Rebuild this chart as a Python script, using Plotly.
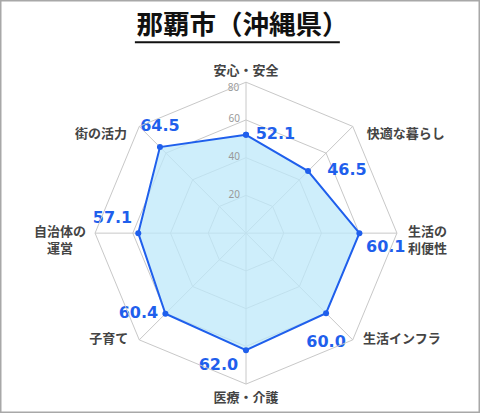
import plotly.graph_objects as go

# categories (clockwise from top) and scores
categories = ["安心・安全", "快適な暮らし", "生活の利便性", "生活インフラ",
              "医療・介護", "子育て", "自治体の運営", "街の活力"]
scores = [52.1, 46.5, 60.1, 60.0, 62.0, 60.4, 57.1, 64.5]
radial_ticks = [0, 20, 40, 60, 80]

# category labels as shown around the chart (line breaks as in the original)
axis_labels = ["安心・安全", "<br>快適な暮らし", "<br>生活の<br>利便性", "生活インフラ",
               "医療・介護", "子育て", "<br>自治体の<br>運営　", "<br>街の活力"]
axis_label_pos = ["top center", "middle right", "middle right", "middle right",
                  "bottom center", "middle left", "middle left", "middle left"]
axis_label_gap = [4.5, 21, 16, 15, 12, 16, 13, 18]

# where each value label sits around its point, and how far (invisible marker size)
label_pos = ["middle right", "middle right", "bottom right", "bottom center",
             "bottom left", "middle left", "top left", "top center"]
label_gap = [14, 29, 9, 34, 11, 10, 8, 17]

# radial tick label placement (the top one drops a little below the ring)
tick_pos = ["middle left"] * 4 + ["bottom left"]
tick_gap = [8, 8, 8, 8, 1]

BLUE = "#1f5fec"

fig = go.Figure()

# filled polygon
fig.add_trace(go.Scatterpolar(
    r=scores + scores[:1], theta=categories + categories[:1],
    mode="lines+markers", fill="toself",
    fillcolor="rgba(190,232,250,0.75)",
    line=dict(color=BLUE, width=2),
    marker=dict(color=BLUE, size=6),
    hoverinfo="skip", showlegend=False,
))

# value labels
fig.add_trace(go.Scatterpolar(
    r=scores, theta=categories, mode="markers+text",
    marker=dict(size=label_gap, opacity=0),
    text=[f"{v:.1f}" for v in scores], textposition=label_pos,
    textfont=dict(family="DejaVu Sans", size=16, color=BLUE, weight="bold"),
    hoverinfo="skip", showlegend=False, cliponaxis=False,
))

# category labels at the outer ring
fig.add_trace(go.Scatterpolar(
    r=[radial_ticks[-1]] * len(categories), theta=categories, mode="markers+text",
    marker=dict(size=axis_label_gap, opacity=0),
    text=axis_labels, textposition=axis_label_pos,
    textfont=dict(family="Noto Sans CJK JP", size=13, color="#444", weight="bold"),
    hoverinfo="skip", showlegend=False, cliponaxis=False,
))

# radial tick labels, left of the top spoke
# (the centre one stays clipped to the plot, otherwise plotly hides it)
for centre in (True, False):
    idx = [i for i, t in enumerate(radial_ticks) if (t == radial_ticks[0]) == centre]
    fig.add_trace(go.Scatterpolar(
        r=[radial_ticks[i] for i in idx], theta=[categories[0]] * len(idx),
        mode="markers+text",
        marker=dict(size=[tick_gap[i] for i in idx], opacity=0),
        text=[str(radial_ticks[i]) + ("\u00a0\u00a0" if tick_pos[i].startswith("bottom") else "")
              for i in idx],
        textposition=[tick_pos[i] for i in idx],
        textfont=dict(family="Noto Sans", size=10, color="#999"),
        hoverinfo="skip", showlegend=False, cliponaxis=centre,
    ))

fig.update_layout(
    width=480, height=413,
    margin=dict(l=0, r=0, t=0, b=0),
    paper_bgcolor="white",
    font=dict(family="Noto Sans CJK JP"),
    title=dict(text="<b>那覇市（沖縄県）</b>", x=0.505, xanchor="center",
               y=0.94, yanchor="middle",
               font=dict(size=26.5, color="#111")),
    polar=dict(
        domain=dict(x=[0.198, 0.827], y=[0.070, 0.801]),
        bgcolor="white",
        gridshape="linear",
        angularaxis=dict(rotation=90, direction="clockwise",
                         gridcolor="#c8c8c8", linecolor="#c8c8c8",
                         showline=True, ticks="", showticklabels=False),
        radialaxis=dict(range=[0, 80], tickvals=radial_ticks, angle=90,
                        showticklabels=False, gridcolor="#c8c8c8",
                        showline=False, ticks=""),
    ),
    shapes=[
        dict(type="rect", xref="paper", yref="paper", x0=0, y0=0, x1=1, y1=1,
             line=dict(color="#a8a8a8", width=3)),
        dict(type="line", xref="paper", yref="paper", x0=0.281, x1=0.708,
             y0=0.898, y1=0.898, line=dict(color="#111", width=2)),
    ],
)

fig.write_html("out.html", config={"displayModeBar": False},
               post_script="document.body.style.margin='0';")
